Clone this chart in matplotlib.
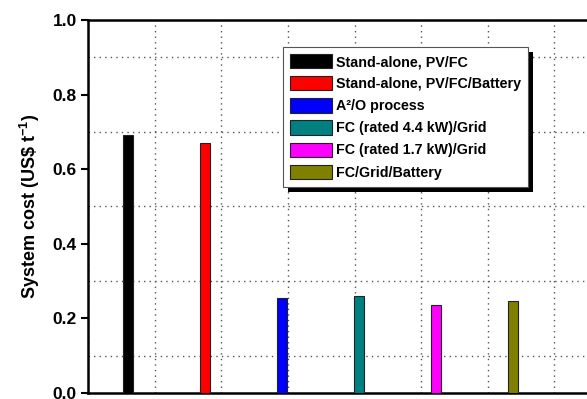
import numpy as np
import matplotlib.pyplot as plt
from matplotlib.patches import Rectangle
from matplotlib.ticker import MultipleLocator

# system cost per tonne for each configuration
systems = ["Stand-alone, PV/FC", "Stand-alone, PV/FC/Battery", "A\u00b2/O process",
           "FC (rated 4.4 kW)/Grid", "FC (rated 1.7 kW)/Grid", "FC/Grid/Battery"]
cost = [0.693, 0.671, 0.256, 0.261, 0.237, 0.246]
colors = ["#000000", "#ff0000", "#0000ff", "#008080", "#ff00ff", "#808000"]

plt.rcParams['font.family'] = ['Liberation Sans', 'DejaVu Sans']
plt.rcParams['font.weight'] = 'bold'
plt.rcParams['mathtext.fontset'] = 'custom'
plt.rcParams['mathtext.rm'] = 'Liberation Sans:bold'
plt.rcParams['mathtext.bf'] = 'Liberation Sans:bold'

fig = plt.figure(figsize=(5.87, 3.99), dpi=100)
ax = fig.add_axes([88/587, 6/399, 533/587, 373/399])

xs = 0.6 + 1.155*np.arange(len(cost))
for x, c, col, lab in zip(xs, cost, colors, systems):
    ax.bar(x, c, width=0.15, color=col, edgecolor='#222222', linewidth=0.8,
           label=lab, zorder=3)

ax.set_xlim(0, 8)
ax.set_ylim(0, 1.0)
ax.yaxis.set_major_locator(MultipleLocator(0.2))
ax.yaxis.set_minor_locator(MultipleLocator(0.1))
ax.xaxis.set_major_locator(MultipleLocator(1))
ax.set_xticklabels([])
ax.tick_params(axis='x', length=0)
ax.tick_params(axis='y', which='major', direction='out', length=5, width=1.5,
               labelsize=12.5, pad=3)
ax.tick_params(axis='y', which='minor', length=0)
for lb in ax.get_yticklabels():
    lb.set_fontweight('bold')

ax.grid(True, axis='x', which='major', linestyle=(0, (1, 3)), color='#555555', linewidth=1)
ax.grid(True, axis='y', which='minor', linestyle=(0, (1, 3)), color='#555555', linewidth=1)

for s in ['left', 'bottom', 'top']:
    ax.spines[s].set_linewidth(1.8)
ax.spines['right'].set_visible(False)

ax.set_ylabel("System cost (US\\$ t$^{\\mathbf{-1}}$)", fontsize=13, fontweight='bold',
              labelpad=8)

leg = ax.legend(loc='upper left', bbox_to_anchor=(283/587, 1 - 47/399),
                bbox_transform=fig.transFigure, fancybox=False, framealpha=1,
                edgecolor='#555555', prop={'weight': 'bold', 'size': 10.3},
                handlelength=2.9, handleheight=1.15, labelspacing=0.5,
                borderpad=0.5, handletextpad=0.3, borderaxespad=0)
leg.get_frame().set_linewidth(0.8)
leg.set_zorder(10)

fig.canvas.draw()
bb = leg.get_window_extent().transformed(fig.transFigure.inverted())
shadow = Rectangle((bb.x0 + 5/587, bb.y0 - 5/399), bb.width, bb.height,
                   transform=fig.transFigure, facecolor='black', zorder=9)
ax.add_artist(shadow)
shadow.set_clip_on(False)

fig.savefig("out.png", dpi=100)
